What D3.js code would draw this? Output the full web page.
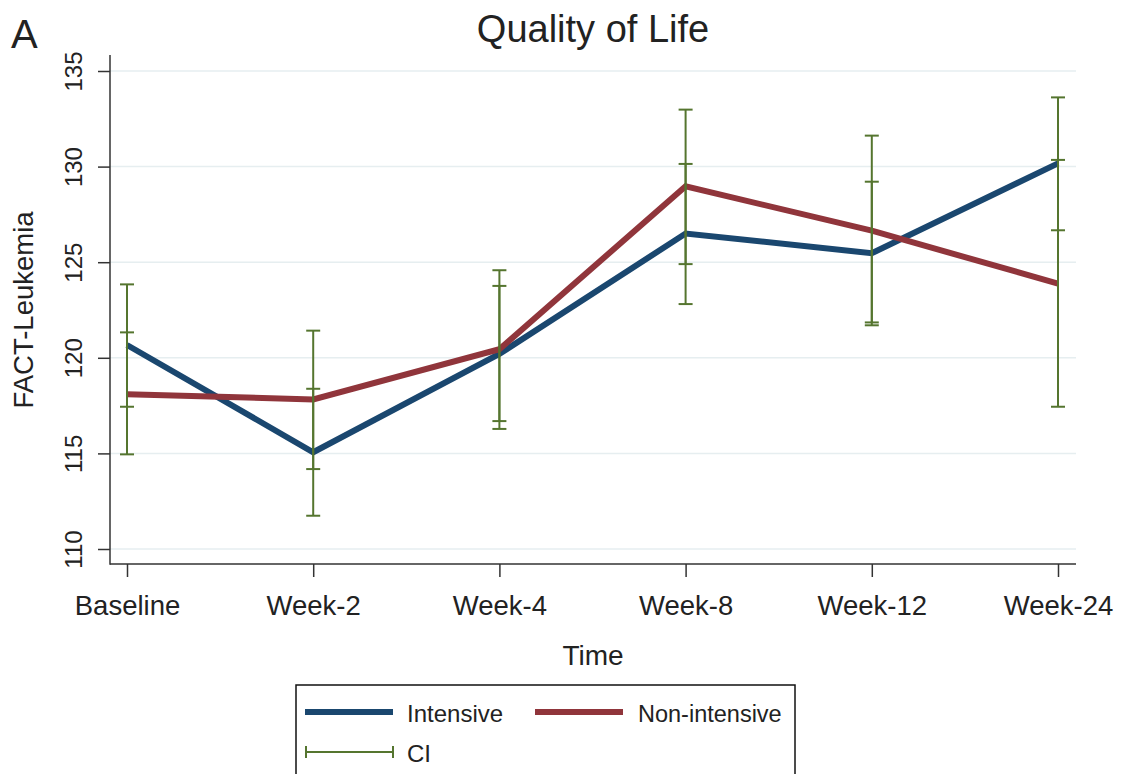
<!DOCTYPE html>
<html>
<head>
<meta charset="utf-8">
<script src="https://cdn.jsdelivr.net/npm/d3@7"></script>
<style>
  html, body { margin: 0; padding: 0; background: #fff; }
  svg { display: block; font-family: "Liberation Sans", Arial, sans-serif; }
</style>
</head>
<body>
<svg id="chart" width="1126" height="774"></svg>
<script>
const categories = ["Baseline", "Week-2", "Week-4", "Week-8", "Week-12", "Week-24"];
const intensive = [120.67, 115.06, 120.2, 126.5, 125.47, 130.17];
const nonIntensive = [118.1, 117.82, 120.45, 128.97, 126.65, 123.88];
const intensiveLo = [117.44, 111.74, 116.69, 122.81, 121.7, 126.67];
const intensiveHi = [123.84, 118.38, 123.76, 130.14, 129.21, 133.62];
const nonIntensiveLo = [114.95, 114.18, 116.28, 124.9, 121.85, 117.44];
const nonIntensiveHi = [121.33, 121.42, 124.58, 132.98, 131.62, 130.35];
const yTicks = [110, 115, 120, 125, 130, 135];
const seriesNames = ["Intensive", "Non-intensive", "CI"];

const colBlue = "#1a476f", colRed = "#90353b", colGreen = "#55752f";
const textCol = "#222";

const svg = d3.select("#chart");
const x = d3.scalePoint().domain(categories).range([127, 1058]);
const y = d3.scaleLinear().domain([110, 135]).range([549, 71]);
const axisX0 = 110, axisX1 = 1076, axisYBottom = 564, axisYTop = 55;

// gridlines
svg.append("g").selectAll("line").data(yTicks).join("line")
  .attr("x1", axisX0).attr("x2", axisX1)
  .attr("y1", d => y(d)).attr("y2", d => y(d))
  .attr("stroke", "#e6eef0").attr("stroke-width", 1.5);

// axes
const yAxis = svg.append("g").attr("transform", `translate(${axisX0},0)`)
  .call(d3.axisLeft(y).tickValues(yTicks).tickSize(12).tickFormat(d3.format("d")));
yAxis.select(".domain").remove();
yAxis.selectAll(".tick line").attr("stroke", "#333").attr("stroke-width", 1.5);
yAxis.selectAll(".tick text")
  .attr("x", null).attr("dy", null)
  .attr("transform", "translate(-28,0) rotate(-90)")
  .attr("text-anchor", "middle")
  .attr("font-size", 24).attr("fill", textCol)
  .attr("font-family", "Liberation Sans, Arial, sans-serif");

const xAxis = svg.append("g").attr("transform", `translate(0,${axisYBottom})`)
  .call(d3.axisBottom(x).tickSize(13));
xAxis.select(".domain").remove();
xAxis.selectAll(".tick line").attr("stroke", "#333").attr("stroke-width", 1.5);
xAxis.selectAll(".tick text")
  .attr("y", 51).attr("dy", null)
  .attr("font-size", 27.5).attr("fill", textCol)
  .attr("font-family", "Liberation Sans, Arial, sans-serif");

svg.append("line").attr("x1", axisX0).attr("x2", axisX0)
  .attr("y1", axisYTop).attr("y2", axisYBottom + 0.75)
  .attr("stroke", "#333").attr("stroke-width", 1.5);
svg.append("line").attr("x1", axisX0).attr("x2", axisX1)
  .attr("y1", axisYBottom).attr("y2", axisYBottom)
  .attr("stroke", "#333").attr("stroke-width", 1.5);

// lines
const line = d3.line().x((d, i) => x(categories[i])).y(d => y(d));
svg.append("path").datum(intensive).attr("d", line)
  .attr("fill", "none").attr("stroke", colBlue).attr("stroke-width", 6).attr("stroke-linejoin", "miter");
svg.append("path").datum(nonIntensive).attr("d", line)
  .attr("fill", "none").attr("stroke", colRed).attr("stroke-width", 6).attr("stroke-linejoin", "miter");

// CIs
function drawCI(lo, hi) {
  const g = svg.append("g").attr("stroke", colGreen).attr("stroke-width", 2).attr("fill", "none");
  categories.forEach((c, i) => {
    const cx = x(c);
    g.append("line").attr("x1", cx).attr("x2", cx).attr("y1", y(lo[i])).attr("y2", y(hi[i]));
    g.append("line").attr("x1", cx - 7).attr("x2", cx + 7).attr("y1", y(lo[i])).attr("y2", y(lo[i]));
    g.append("line").attr("x1", cx - 7).attr("x2", cx + 7).attr("y1", y(hi[i])).attr("y2", y(hi[i]));
  });
}
drawCI(intensiveLo, intensiveHi);
drawCI(nonIntensiveLo, nonIntensiveHi);

// titles
svg.append("text").attr("x", 593).attr("y", 42).attr("text-anchor", "middle")
  .attr("font-size", 38).attr("fill", textCol).text("Quality of Life");
svg.append("text").attr("x", 11).attr("y", 48)
  .attr("font-size", 40).attr("fill", textCol).text("A");
svg.append("text").attr("transform", "translate(33,310) rotate(-90)").attr("text-anchor", "middle")
  .attr("font-size", 27.5).attr("fill", textCol).text("FACT-Leukemia");
svg.append("text").attr("x", 593).attr("y", 665).attr("text-anchor", "middle")
  .attr("font-size", 28).attr("fill", textCol).text("Time");

// legend
const lg = svg.append("g");
lg.append("rect").attr("x", 296).attr("y", 685).attr("width", 499).attr("height", 120)
  .attr("fill", "#fff").attr("stroke", "#111").attr("stroke-width", 1.5);
lg.append("line").attr("x1", 305).attr("x2", 393).attr("y1", 712).attr("y2", 712)
  .attr("stroke", colBlue).attr("stroke-width", 6);
lg.append("text").attr("x", 407).attr("y", 722).attr("font-size", 24).attr("fill", textCol).text(seriesNames[0]);
lg.append("line").attr("x1", 535).attr("x2", 623).attr("y1", 712).attr("y2", 712)
  .attr("stroke", colRed).attr("stroke-width", 6);
lg.append("text").attr("x", 638).attr("y", 722).attr("font-size", 23.5).attr("fill", textCol).text(seriesNames[1]);
const ci = lg.append("g").attr("stroke", colGreen).attr("stroke-width", 2);
ci.append("line").attr("x1", 306).attr("x2", 393).attr("y1", 752).attr("y2", 752);
ci.append("line").attr("x1", 306).attr("x2", 306).attr("y1", 746).attr("y2", 758);
ci.append("line").attr("x1", 393).attr("x2", 393).attr("y1", 746).attr("y2", 758);
lg.append("text").attr("x", 407).attr("y", 762).attr("font-size", 24).attr("fill", textCol).text(seriesNames[2]);
</script>
</body>
</html>
